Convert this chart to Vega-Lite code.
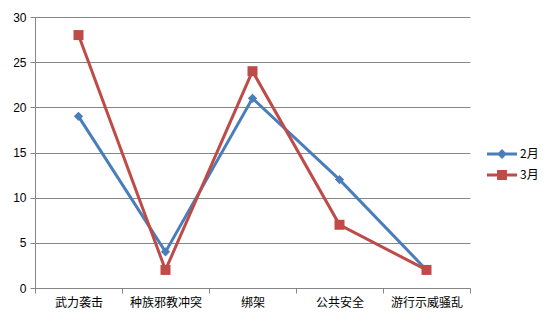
{
  "$schema": "https://vega.github.io/schema/vega-lite/v6.json",
  "width": 435,
  "height": 271,
  "autosize": "none",
  "padding": {"left": 35, "top": 17, "right": 85, "bottom": 38},
  "background": "white",
  "data": {"values": [
    {"cat": "武力袭击", "series": "2月", "value": 19},
    {"cat": "种族邪教冲突", "series": "2月", "value": 4},
    {"cat": "绑架", "series": "2月", "value": 21},
    {"cat": "公共安全", "series": "2月", "value": 12},
    {"cat": "游行示威骚乱", "series": "2月", "value": 2},
    {"cat": "武力袭击", "series": "3月", "value": 28},
    {"cat": "种族邪教冲突", "series": "3月", "value": 2},
    {"cat": "绑架", "series": "3月", "value": 24},
    {"cat": "公共安全", "series": "3月", "value": 7},
    {"cat": "游行示威骚乱", "series": "3月", "value": 2}
  ]},
  "encoding": {
    "x": {
      "field": "cat", "type": "nominal",
      "sort": ["武力袭击", "种族邪教冲突", "绑架", "公共安全", "游行示威骚乱"],
      "scale": {"type": "band", "paddingInner": 0, "paddingOuter": 0},
      "axis": {
        "title": null, "labelAngle": 0, "tickBand": "extent", "grid": false,
        "domainColor": "#868686", "tickColor": "#868686", "tickSize": 5,
        "labelFont": "Noto Sans CJK SC", "labelFontSize": 12, "labelColor": "#000000",
        "labelPadding": 4
      }
    },
    "y": {
      "field": "value", "type": "quantitative",
      "scale": {"domain": [0, 30], "nice": false},
      "axis": {
        "title": null, "values": [0, 5, 10, 15, 20, 25, 30],
        "grid": true, "gridColor": "#868686", "gridOpacity": 1,
        "domainColor": "#868686", "tickColor": "#868686", "tickSize": 5,
        "labelFont": "Liberation Sans", "labelFontSize": 12, "labelColor": "#000000",
        "labelPadding": 4
      }
    },
    "color": {"field": "series", "type": "nominal",
      "scale": {"domain": ["2月", "3月"], "range": ["#4A7EBB", "#BE4B48"]},
      "legend": {
        "title": null, "orient": "none", "legendX": 452, "legendY": 122,
        "symbolSize": 900, "symbolOpacity": 1, "symbolStrokeWidth": 0,
        "labelFont": "Noto Sans CJK SC", "labelFontSize": 12, "labelColor": "#000000",
        "labelOffset": 3, "rowPadding": -10
      }}
  },
  "layer": [
    {
      "mark": {"type": "line", "strokeWidth": 3},
      "encoding": {}
    },
    {
      "transform": [{"filter": "datum.series === '2月'"}],
      "mark": {"type": "point", "filled": true, "opacity": 1, "shape": "diamond", "size": 85},
      "encoding": {}
    },
    {
      "transform": [{"filter": "datum.series === '3月'"}],
      "mark": {"type": "point", "filled": true, "opacity": 1, "shape": "square", "size": 100},
      "encoding": {}
    },
    {
      "mark": {"type": "point", "filled": true, "opacity": 0},
      "encoding": {
        "shape": {"field": "series", "type": "nominal",
          "scale": {"domain": ["2月", "3月"], "range": [
            "M-1,-0.1H1V0.1H-1Z M0,-0.33L0.33,0L0,0.33L-0.33,0Z",
            "M-1,-0.1H1V0.1H-1Z M-0.33,-0.33H0.33V0.33H-0.33Z"
          ]},
          "legend": {
            "title": null, "orient": "none", "legendX": 452, "legendY": 122,
            "symbolSize": 900, "symbolOpacity": 1, "symbolStrokeWidth": 0,
            "labelFont": "Noto Sans CJK SC", "labelFontSize": 12, "labelColor": "#000000",
            "labelOffset": 3, "rowPadding": -10
          }}
      }
    }
  ],
  "config": {"view": {"stroke": null}}
}
